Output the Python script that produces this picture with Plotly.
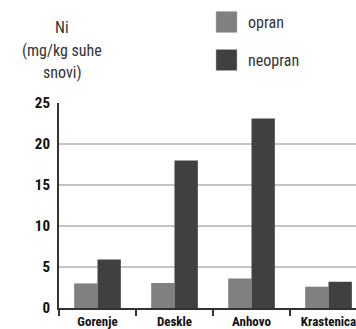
import plotly.graph_objects as go

categories = ["Gorenje", "Deskle", "Anhovo", "Krastenica"]
opran = [3.0, 3.05, 3.6, 2.6]
neopran = [5.9, 18.0, 23.1, 3.2]
series_names = ["opran", "neopran"]
y_ticks = [0, 5, 10, 15, 20, 25]
y_title_lines = ["Ni", "(mg/kg suhe", "snovi)"]

c_opran = "#808080"
c_neopran = "#404040"
FAM = "Roboto Condensed, Roboto, sans-serif"
xtick_font = dict(family=FAM, size=13, color="#111111", weight="bold")
ytick_font = dict(family=FAM, size=15, color="#111111", weight="bold")
text_font = dict(family=FAM, size=16, color="#333333")

fig = go.Figure()
fig.add_trace(go.Bar(x=categories, y=opran, name=series_names[0],
                     marker=dict(color=c_opran, line=dict(width=0))))
fig.add_trace(go.Bar(x=categories, y=neopran, name=series_names[1],
                     marker=dict(color=c_neopran, line=dict(width=0))))

W, H = 356, 329
ml, mr, mt, mb = 59, 0, 103, 21

fig.update_layout(
    width=W, height=H,
    margin=dict(l=ml, r=mr, t=mt, b=mb, pad=0),
    paper_bgcolor="white", plot_bgcolor="white",
    barmode="group", bargap=0.394, bargroupgap=0,
    showlegend=False,
    xaxis=dict(range=[-0.5, 3.357], showline=True, linecolor="#333333", linewidth=2,
               ticks="outside", tickson="boundaries", ticklen=6, tickwidth=1.5,
               tickcolor="#333333", showgrid=False, zeroline=False,
               tickangle=0, automargin=False, ticklabelstandoff=0,
               tickfont=xtick_font, fixedrange=True),
    yaxis=dict(range=[0, 25], tickvals=y_ticks, showline=True, linecolor="#333333", linewidth=2,
               ticks="", showgrid=True, gridcolor="#c4c4c4", gridwidth=1.5, zeroline=False,
               automargin=False, tickfont=ytick_font, ticklabelstandoff=4, fixedrange=True),
)

# y-axis short extension below zero
fig.add_shape(type="line", xref="paper", yref="paper", x0=0, x1=0, y0=0, y1=-6 / (H - mt - mb),
              line=dict(color="#333333", width=2))

# Y-axis title lines
for i, line in enumerate(y_title_lines):
    fig.add_annotation(text=line, xref="paper", yref="paper",
                       x=(62 - ml) / (W - ml - mr), y=(H - mb - (28 + 22 * i)) / (H - mt - mb),
                       xanchor="center", yanchor="middle", showarrow=False, font=text_font)

# Legend
leg_colors = [c_opran, c_neopran]
leg_y = [22, 60]
for name, col, yc in zip(series_names, leg_colors, leg_y):
    px0 = (216 - ml) / (W - ml - mr)
    px1 = (237 - ml) / (W - ml - mr)
    py0 = (H - mb - (yc + 10.5)) / (H - mt - mb)
    py1 = (H - mb - (yc - 10.5)) / (H - mt - mb)
    fig.add_shape(type="rect", xref="paper", yref="paper", x0=px0, x1=px1, y0=py0, y1=py1,
                  fillcolor=col, line=dict(color="#b0b0b0", width=0.5))
    fig.add_annotation(text=name, xref="paper", yref="paper",
                       x=(246 - ml) / (W - ml - mr), y=(H - mb - yc) / (H - mt - mb),
                       xanchor="left", yanchor="middle", showarrow=False, font=text_font)

fig.write_html("out.html", config={"displayModeBar": False},
               post_script="document.body.style.margin='0';document.body.style.overflow='hidden';")
